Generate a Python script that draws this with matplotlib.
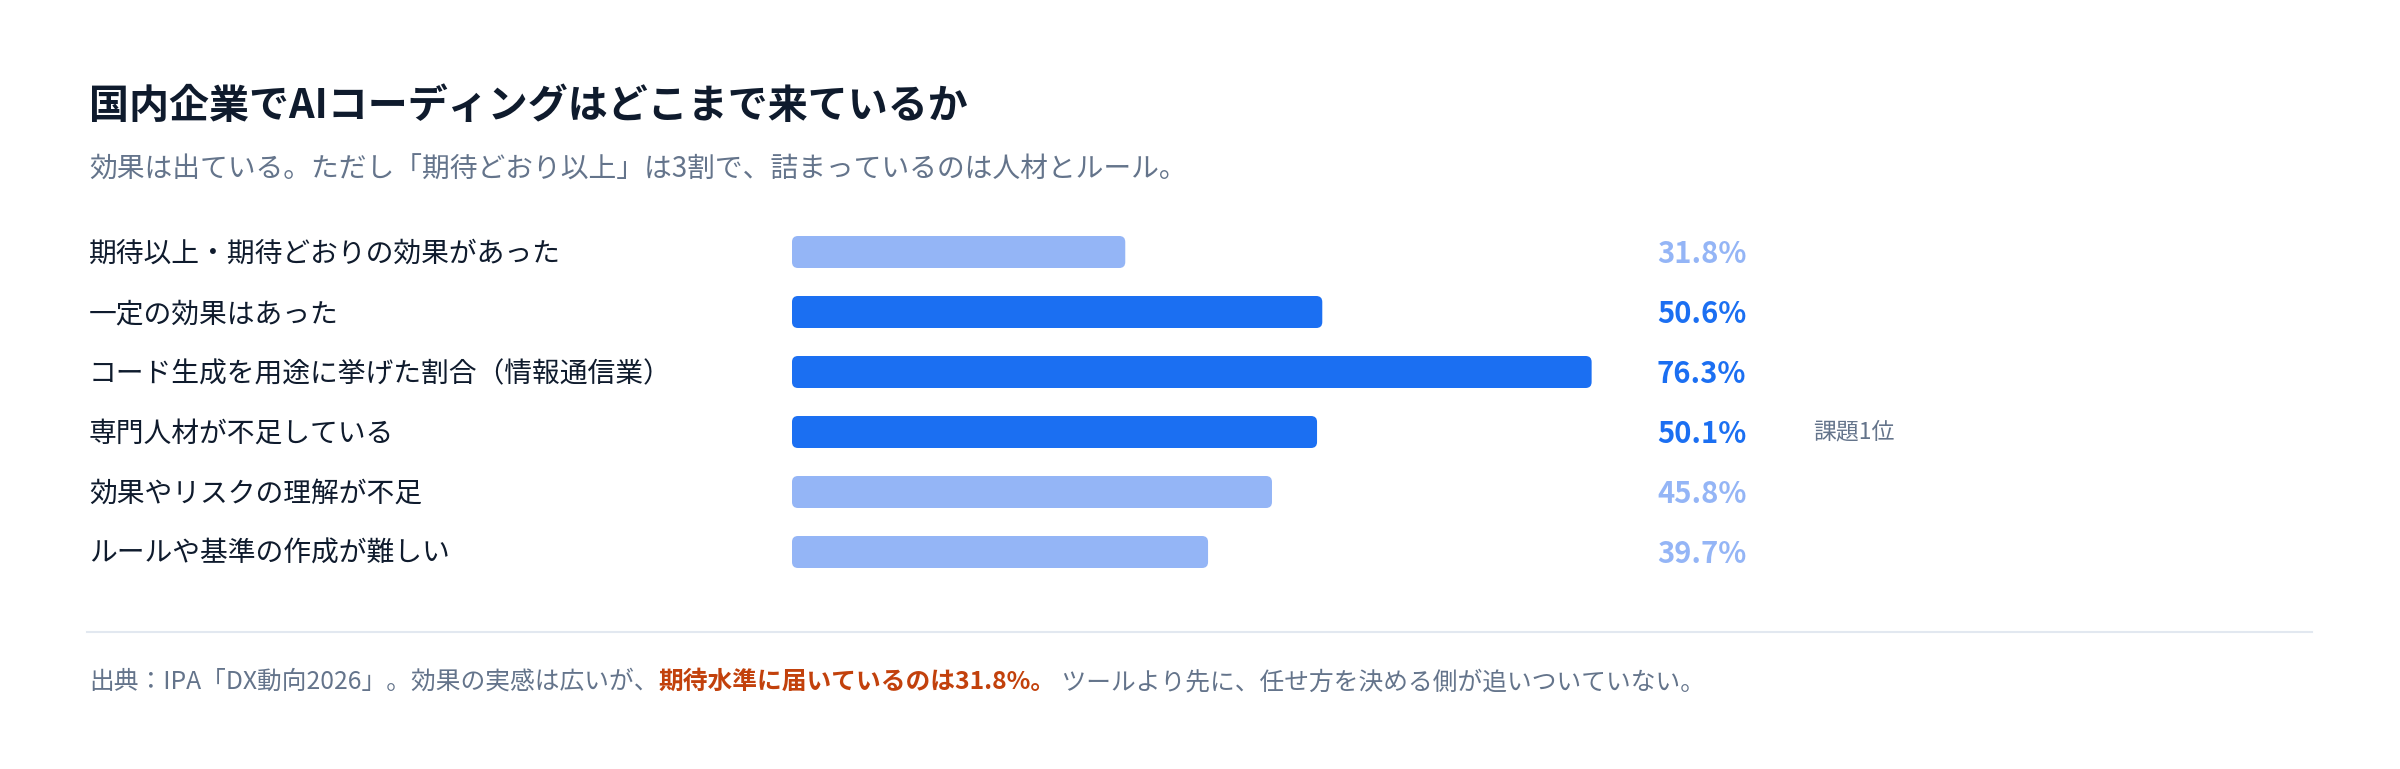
import matplotlib
matplotlib.use("Agg")
import matplotlib.pyplot as plt
from matplotlib.patches import FancyBboxPatch
from matplotlib.transforms import blended_transform_factory

plt.rcParams['font.family'] = ['Noto Sans CJK JP', 'DejaVu Sans']

title = "国内企業でAIコーディングはどこまで来ているか"
subtitle = "効果は出ている。ただし「期待どおり以上」は3割で、詰まっているのは人材とルール。"
categories = [
    "期待以上・期待どおりの効果があった",
    "一定の効果はあった",
    "コード生成を用途に挙げた割合（情報通信業）",
    "専門人材が不足している",
    "効果やリスクの理解が不足",
    "ルールや基準の作成が難しい",
]
values = [31.8, 50.6, 76.3, 50.1, 45.8, 39.7]
highlight = [False, True, True, True, False, False]
notes = ["", "", "", "課題1位", "", ""]
footer_parts = [
    ("出典：IPA「DX動向2026」。効果の実感は広いが、", "normal", "#64748b"),
    ("期待水準に届いているのは31.8%。", "bold", "#c2410c"),
    (" ツールより先に、任せ方を決める側が追いついていない。", "normal", "#64748b"),
]

DARK = "#1b6ff2"
LIGHT = "#94b5f6"

W, H = 2400, 769
fig = plt.figure(figsize=(W / 100, H / 100), dpi=100)
fig.patch.set_facecolor("white")

def fy(px):
    return 1 - px / H

def fx(px):
    return px / W

# title & subtitle
fig.text(fx(89), fy(107), title, fontsize=28.8, fontweight="bold", color="#0f1b2d",
         ha="left", va="center")
fig.text(fx(89), fy(170), subtitle, fontsize=20, color="#64748b",
         ha="left", va="center")

# bar axes
row_h = 60
top = 222
n = len(categories)
ax_left, ax_right = 792, 1840
ax = fig.add_axes([fx(ax_left), fy(top + n * row_h), (ax_right - ax_left) / W, n * row_h / H])
ax.set_xlim(0, 100)
ax.set_ylim(n - 0.5, -0.5)
ax.axis("off")

ypos = list(range(n))
colors = [DARK if h else LIGHT for h in highlight]
bars = ax.barh(ypos, values, height=32 / row_h, color=colors)

px_per_x = (ax_right - ax_left) / 100
px_per_y = row_h
radius_px = 6
for b, c in zip(bars, colors):
    x0, y0, w, h = b.get_x(), b.get_y(), b.get_width(), b.get_height()
    b.remove()
    p = FancyBboxPatch((x0, y0), w, h,
                       boxstyle=f"round,pad=0,rounding_size={radius_px / px_per_x}",
                       mutation_aspect=px_per_x / px_per_y,
                       facecolor=c, edgecolor="none")
    ax.add_patch(p)

trans = blended_transform_factory(ax.transAxes, ax.transData)
val_x = (1657 - ax_left) / (ax_right - ax_left)
note_x = (1813 - ax_left) / (ax_right - ax_left)
for i, (v, c, nt) in enumerate(zip(values, colors, notes)):
    ax.text(val_x, i + 0.04, f"{v:.1f}%", transform=trans, fontsize=21, fontweight="bold",
            color=c, ha="left", va="center")
    if nt:
        ax.text(note_x, i, nt, transform=trans, fontsize=16.5, color="#64748b",
                ha="left", va="center")

# category labels
for i, lab in enumerate(categories):
    fig.text(fx(89), fy(top + row_h / 2 + i * row_h + 2), lab, fontsize=20, color="#0f1b2d",
             ha="left", va="center")

# separator line
fig.add_artist(plt.Line2D([fx(87), fx(2312)], [fy(632), fy(632)], color="#e2e8f0", lw=1.5))

# footer
fig.canvas.draw()
renderer = fig.canvas.get_renderer()
xcur = 89
for txt, wt, col in footer_parts:
    t = fig.text(fx(xcur), fy(682), txt, fontsize=17.8, fontweight=wt, color=col,
                 ha="left", va="center")
    bb = t.get_window_extent(renderer=renderer)
    xcur = bb.x1

fig.savefig("out.png", dpi=100, facecolor="white")
